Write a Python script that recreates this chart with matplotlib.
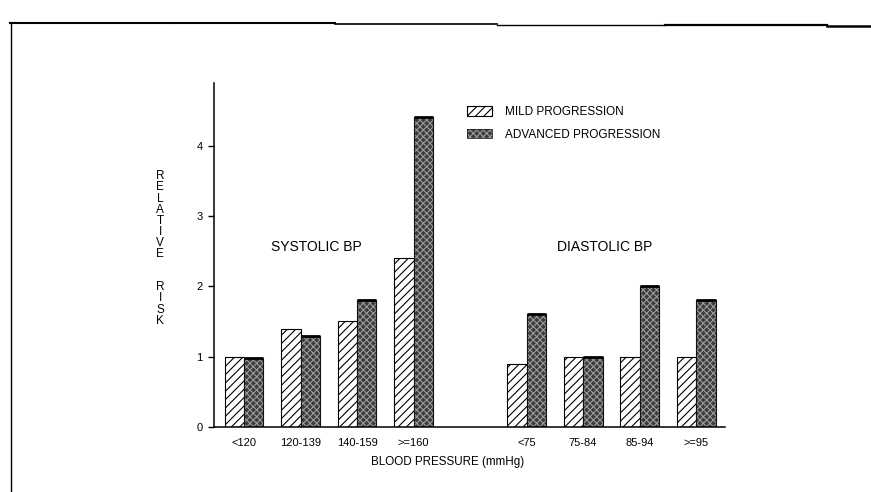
import matplotlib
matplotlib.use("Agg")
import matplotlib.pyplot as plt
from matplotlib.lines import Line2D
from matplotlib.patches import Patch
from matplotlib.legend_handler import HandlerTuple
import numpy as np

plt.rcParams['font.family'] = ['Liberation Sans', 'DejaVu Sans']
plt.rcParams['hatch.linewidth'] = 0.8

# ---- data ----
categories = ["<120", "120-139", "140-159", ">=160", "<75", "75-84", "85-94", ">=95"]
positions = [0, 1, 2, 3, 5, 6, 7, 8]
mild = [1.0, 1.4, 1.5, 2.4, 0.9, 1.0, 1.0, 1.0]
advanced = [0.98, 1.3, 1.8, 4.4, 1.6, 1.0, 2.0, 1.8]
series_labels = ["MILD PROGRESSION", "ADVANCED PROGRESSION"]
group_labels = ["SYSTOLIC BP", "DIASTOLIC BP"]
yticks = [0, 1, 2, 3, 4]

W, H = 871, 492
fig = plt.figure(figsize=(W / 100, H / 100), dpi=100)
ax = fig.add_axes([214 / W, (H - 427) / H, (725 - 214) / W, (427 - 83) / H])

w = 0.345
pos = np.array(positions, dtype=float)

DARK_FACE = '#3c3c3c'
DARK_HATCH = '#9a9a9a'
MILD_HATCH = '////'

# mild: white with diagonal hatch
ax.bar(pos - w, mild, width=w, align='edge', facecolor='white',
       edgecolor='black', hatch=MILD_HATCH, linewidth=0.8)
# advanced: dark stippled
ax.bar(pos, advanced, width=w, align='edge', facecolor=DARK_FACE,
       edgecolor=DARK_HATCH, hatch='xxxxx', linewidth=0)
ax.bar(pos, advanced, width=w, align='edge', facecolor='none',
       edgecolor='#111111', linewidth=0.8)
ax.hlines(advanced, pos, pos + w, colors='black', linewidth=2.0)

ax.set_xlim(-0.531, 8.513)
ax.set_ylim(0, 4.89)

for s in ['top', 'right']:
    ax.spines[s].set_visible(False)
ax.spines['left'].set_linewidth(1.1)
ax.spines['bottom'].set_linewidth(1.1)

ax.set_yticks(yticks)
ax.set_yticklabels([str(t) for t in yticks], fontsize=8)
ax.tick_params(axis='y', direction='out', length=4.3, width=1.0, pad=4)
ax.set_xticks(pos)
ax.set_xticklabels(categories, fontsize=8)
ax.tick_params(axis='x', length=0, pad=8)

fig.text(448 / W, (H - 462) / H, "BLOOD PRESSURE (mmHg)", fontsize=8.4,
         ha='center', va='center')

# group captions
fig.text(316 / W, (H - 247) / H, group_labels[0], fontsize=10,
         ha='center', va='center')
fig.text(605 / W, (H - 247) / H, group_labels[1], fontsize=10,
         ha='center', va='center')

# stacked y-label
ylab = "\n".join(list("RELATIVE") + ["", ""] + list("RISK"))
fig.text(160 / W, (H - 248.5) / H, ylab, fontsize=8.5, ha='center',
         va='center', linespacing=0.9, multialignment='center')

# legend
h_mild = Patch(facecolor='white', edgecolor='black', hatch=MILD_HATCH, linewidth=0.8)
h_adv_fill = Patch(facecolor=DARK_FACE, edgecolor=DARK_HATCH, hatch='xxxxx', linewidth=0)
h_adv_edge = Patch(facecolor='none', edgecolor='#222222', linewidth=0.6)
leg = ax.legend([h_mild, (h_adv_fill, h_adv_edge)], series_labels, loc='upper left',
                handler_map={tuple: HandlerTuple(ndivide=1, pad=0)},
                bbox_to_anchor=(467 / W, (H - 106) / H),
                bbox_transform=fig.transFigure, frameon=False,
                fontsize=8.5, handlelength=2.1, handleheight=0.85,
                handletextpad=1.1, labelspacing=0.9, borderpad=0,
                borderaxespad=0)

# scanned page frame lines
def fl(x0, x1, y0, y1, lw=1.5):
    fig.add_artist(Line2D([x0 / W, x1 / W], [(H - y0) / H, (H - y1) / H],
                          color='black', linewidth=lw, transform=fig.transFigure))

fl(10, 175, 23, 23)
fl(175, 335, 22.5, 22.5)
fl(335, 497, 24, 24, 1.2)
fl(497, 665, 24.5, 24.5, 1.0)
fl(665, 827, 25, 25, 1.6)
fl(827, 871, 26, 26, 1.8)
fl(10.5, 10.5, 23, 492, 1.0)

fig.savefig("out.png", dpi=100)
